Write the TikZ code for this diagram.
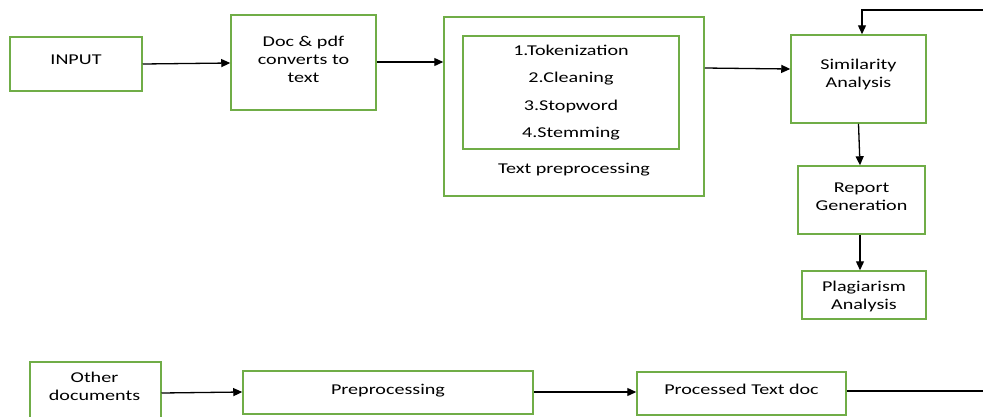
\documentclass[tikz,border=0pt]{standalone}
\usepackage{fontspec}
\setmainfont{Carlito}[FakeStretch=1.34]
\usetikzlibrary{arrows.meta}
\definecolor{boxgreen}{RGB}{112,173,71}
\begin{document}
\begin{tikzpicture}[x=1pt,y=-1pt,
  box/.style={draw=boxgreen,line width=1.5pt,fill=white,align=center,inner sep=0pt,
    font=\fontsize{15}{18}\selectfont},
  conn/.style={line width=1.3pt,black},
  arr/.style={conn,-{Triangle[length=9pt,width=8pt]}},
  lbl/.style={align=center,inner sep=0pt,font=\fontsize{15}{18}\selectfont}]
\clip (0,0) rectangle (983,416);
\fill[white] (0,0) rectangle (983,416);
% top row
\node[box,minimum width=132pt,minimum height=54pt,label={[lbl,yshift=4pt]center:INPUT}] (input) at (76,64) {};
\node[box,minimum width=145pt,minimum height=95pt,label={[lbl,yshift=3pt]center:Doc \& pdf\\converts to\\text}] (doc) at (303.5,62.5) {};
\node[box,minimum width=260pt,minimum height=179pt] (tp) at (574,106.5) {};
\node[box,minimum width=216pt,minimum height=113pt,font=\fontsize{15}{27.5}\selectfont] (steps) at (571,92.5)
  {1.Tokenization\\2.Cleaning\\3.Stopword\\4.Stemming};
\node[lbl] (tplabel) at (574,170) {Text preprocessing};
\node[box,minimum width=135pt,minimum height=88pt,label={[lbl,yshift=5pt]center:Similarity\\Analysis}] (sim) at (858.5,79) {};
\node[box,minimum width=127pt,minimum height=68pt,label={[lbl,yshift=3pt]center:Report\\Generation}] (rep) at (861.5,200) {};
\node[box,minimum width=124pt,minimum height=48pt,label={[lbl,yshift=-1pt]center:Plagiarism\\Analysis}] (plag) at (864,295) {};
% bottom row
\node[box,minimum width=131pt,minimum height=64pt,anchor=north west] (other) at (29,361) {};
\node[lbl] (otherlbl) at (94.5,386.5) {Other\\documents};
\node[box,minimum width=290pt,minimum height=43pt,label={[lbl,yshift=2pt]center:Preprocessing}] (pre) at (388,392.5) {};
\node[box,minimum width=209pt,minimum height=43pt,label={[lbl,yshift=4pt]center:Processed Text doc}] (proc) at (741.5,393.5) {};
\coordinate (topin) at (983,10);
\coordinate (procout) at (983,391);
% connectors
\draw[arr] (input.east |- 0,64) -- (doc.west |- 0,63);
\draw[arr] (doc.east |- 0,62) -- (tp.west |- 0,62);
\draw[arr] (tp.east |- 0,68) -- (sim.west |- 0,69);
\draw[arr] (topin) -| ([xshift=3.5pt]sim.north);
\draw[arr] (sim.south) -- ([xshift=-1.5pt]rep.north);
\draw[arr] ([xshift=-1.5pt]rep.south) -- ([xshift=-4pt]plag.north);
\draw[arr] (other.east |- 0,393) -- (pre.west |- 0,392);
\draw[arr] (pre.east |- 0,392) -- (proc.west |- 0,392);
\draw[conn] (proc.east |- 0,391) -- (procout);
\end{tikzpicture}
\end{document}
